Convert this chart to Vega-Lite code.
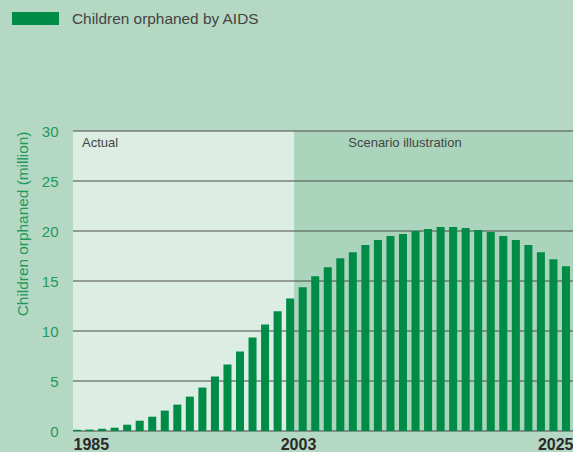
{
  "$schema": "https://vega.github.io/schema/vega-lite/v6.json",
  "width": 500,
  "height": 300,
  "autosize": "none",
  "padding": {"left": 73, "top": 131, "right": 0, "bottom": 21},
  "background": "#b4d8c3",
  "config": {
    "view": {"stroke": null},
    "font": "Liberation Sans",
    "axisY": {
      "values": [0, 5, 10, 15, 20, 25, 30],
      "grid": false,
      "domain": false,
      "ticks": false,
      "labelColor": "#22995a",
      "labelFontSize": 15,
      "labelPadding": 15,
      "titleColor": "#22995a",
      "titleFontSize": 15.4,
      "titleFontWeight": "normal",
      "titlePadding": 11,
      "titleAnchor": "end"
    }
  },
  "datasets": {
    "periods": [
      {"period": "Actual", "start": 1985, "end": 2002.7},
      {"period": "Scenario illustration", "start": 2002.7, "end": 2025}
    ],
    "grid": [{"v": 0}, {"v": 5}, {"v": 10}, {"v": 15}, {"v": 20}, {"v": 25}, {"v": 30}],
    "orphans": [
      {"year": 1985, "orphaned": 0.12},
      {"year": 1986, "orphaned": 0.14},
      {"year": 1987, "orphaned": 0.22},
      {"year": 1988, "orphaned": 0.33},
      {"year": 1989, "orphaned": 0.63},
      {"year": 1990, "orphaned": 1.03},
      {"year": 1991, "orphaned": 1.43},
      {"year": 1992, "orphaned": 2.04},
      {"year": 1993, "orphaned": 2.64},
      {"year": 1994, "orphaned": 3.44},
      {"year": 1995, "orphaned": 4.34},
      {"year": 1996, "orphaned": 5.45},
      {"year": 1997, "orphaned": 6.65},
      {"year": 1998, "orphaned": 7.95},
      {"year": 1999, "orphaned": 9.36},
      {"year": 2000, "orphaned": 10.66},
      {"year": 2001, "orphaned": 11.97},
      {"year": 2002, "orphaned": 13.25},
      {"year": 2003, "orphaned": 14.37},
      {"year": 2004, "orphaned": 15.48},
      {"year": 2005, "orphaned": 16.38},
      {"year": 2006, "orphaned": 17.28},
      {"year": 2007, "orphaned": 17.88},
      {"year": 2008, "orphaned": 18.59},
      {"year": 2009, "orphaned": 19.09},
      {"year": 2010, "orphaned": 19.49},
      {"year": 2011, "orphaned": 19.69},
      {"year": 2012, "orphaned": 19.99},
      {"year": 2013, "orphaned": 20.19},
      {"year": 2014, "orphaned": 20.39},
      {"year": 2015, "orphaned": 20.39},
      {"year": 2016, "orphaned": 20.29},
      {"year": 2017, "orphaned": 20.09},
      {"year": 2018, "orphaned": 19.89},
      {"year": 2019, "orphaned": 19.49},
      {"year": 2020, "orphaned": 19.09},
      {"year": 2021, "orphaned": 18.59},
      {"year": 2022, "orphaned": 17.88},
      {"year": 2023, "orphaned": 17.18},
      {"year": 2024, "orphaned": 16.48}
    ]
  },
  "layer": [
    {
      "data": {"name": "periods"},
      "layer": [
        {
          "mark": {"type": "rect"},
          "encoding": {
            "x": {
              "field": "start",
              "type": "quantitative",
              "scale": {"domain": [1985, 2025], "nice": false, "zero": false},
              "axis": {
                "values": [1985, 2003, 2025],
                "format": "d",
                "labelFlush": true,
                "labelFontWeight": "bold",
                "labelFontSize": 16,
                "labelColor": "#2a2a2a",
                "labelPadding": 5,
                "domain": false,
                "ticks": false,
                "grid": false,
                "title": null
              }
            },
            "x2": {"field": "end"},
            "y": {"datum": 30, "type": "quantitative", "scale": {"domain": [0, 30], "nice": false}, "title": "Children orphaned (million)"},
            "y2": {"datum": 0},
            "color": {
              "field": "period",
              "type": "nominal",
              "scale": {"domain": ["Actual", "Scenario illustration"], "range": ["#dcede3", "#abd4bc"]},
              "legend": null
            }
          }
        },
        {
          "transform": [{"filter": "datum.period === 'Actual'"}],
          "mark": {"type": "text", "align": "left", "baseline": "middle", "dx": 9, "dy": 12, "fontSize": 13, "color": "#444444"},
          "encoding": {
            "x": {"field": "start", "type": "quantitative", "title": null},
            "y": {"datum": 30, "type": "quantitative", "title": "Children orphaned (million)"},
            "text": {"field": "period"}
          }
        },
        {
          "transform": [{"filter": "datum.period === 'Scenario illustration'"}],
          "mark": {"type": "text", "align": "left", "baseline": "middle", "dx": 54, "dy": 12, "fontSize": 13, "color": "#444444"},
          "encoding": {
            "x": {"field": "start", "type": "quantitative", "title": null},
            "y": {"datum": 30, "type": "quantitative", "title": "Children orphaned (million)"},
            "text": {"field": "period"}
          }
        }
      ]
    },
    {
      "data": {"name": "grid"},
      "mark": {"type": "rule", "color": "#4a4a4a", "strokeWidth": 1.2},
      "encoding": {
        "y": {"field": "v", "type": "quantitative", "title": "Children orphaned (million)"}
      }
    },
    {
      "data": {"name": "orphans"},
      "mark": {"type": "bar"},
      "encoding": {
        "x": {
          "field": "year",
          "type": "ordinal",
          "scale": {"paddingInner": 0.36, "paddingOuter": 0.12, "align": 0},
          "axis": null
        },
        "y": {"field": "orphaned", "type": "quantitative", "title": "Children orphaned (million)"},
        "color": {
          "datum": "Children orphaned by AIDS",
          "type": "nominal",
          "scale": {"range": ["#008c46"]},
          "legend": {
            "orient": "none",
            "legendX": -61,
            "legendY": -136,
            "title": null,
            "padding": 0,
            "symbolType": "M-1,-0.2766L1,-0.2766L1,0.2766L-1,0.2766Z",
            "symbolSize": 2209,
            "symbolStrokeWidth": 0,
            "symbolOpacity": 1,
            "labelFontSize": 15.4,
            "labelLimit": 400,
            "labelColor": "#444444",
            "labelOffset": 13
          }
        }
      }
    }
  ],
  "resolve": {"scale": {"x": "independent", "color": "independent"}}
}
